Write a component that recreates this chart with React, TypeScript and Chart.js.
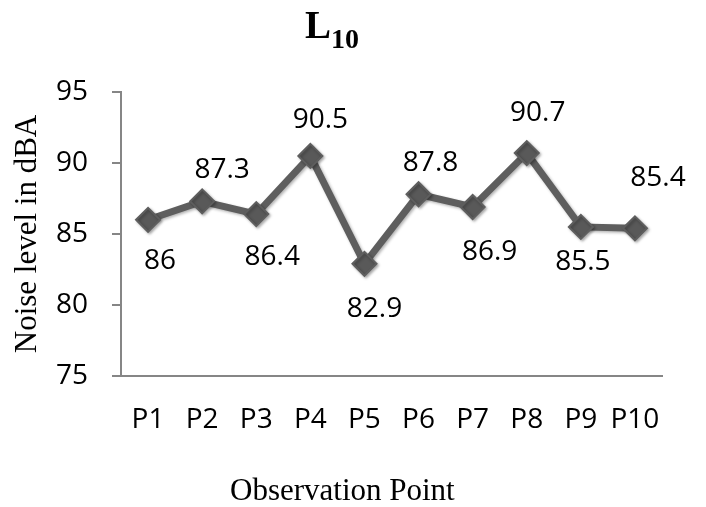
import React, { useEffect, useRef } from "react";
import { Chart, registerables } from "chart.js";

Chart.register(...registerables);

// ---- data ----
const categories = ["P1", "P2", "P3", "P4", "P5", "P6", "P7", "P8", "P9", "P10"];
const noiseL10 = [86, 87.3, 86.4, 90.5, 82.9, 87.8, 86.9, 90.7, 85.5, 85.4];
const yTickValues = [75, 80, 85, 90, 95];
const chartTitleMain = "L";
const chartTitleSub = "10";
const yAxisTitle = "Noise level in dBA";
const xAxisTitle = "Observation Point";

// ---- label placement (style only) ----
const labelDx = [12, 20, 16, 10, 10, 12, 17, 11, 2, 23];
const labelDy = [41, -31, 43, -36, 45, -31, 45, -40, 35, -50];

const LABEL_FONT = '28px "Open Sans", sans-serif';
const SERIF = '"Liberation Serif", "Times New Roman", serif';
const AXIS_COLOR = "#868686";
const LINE_COLOR = "#5e5e5e";

const decorations = {
  id: "decorations",
  beforeDatasetsDraw(chart: any) {
    const ctx = chart.ctx;
    ctx.save();
    ctx.shadowColor = "rgba(0,0,0,0.3)";
    ctx.shadowBlur = 3;
    ctx.shadowOffsetX = 1.5;
    ctx.shadowOffsetY = 1.5;
  },
  afterDatasetsDraw(chart: any) {
    const ctx = chart.ctx;
    ctx.restore();
    const meta = chart.getDatasetMeta(0);
    ctx.save();
    ctx.font = LABEL_FONT;
    ctx.fillStyle = "#000";
    ctx.textAlign = "center";
    ctx.textBaseline = "middle";
    meta.data.forEach((pt: any, i: number) => {
      ctx.fillText(String(noiseL10[i]), pt.x + labelDx[i], pt.y + labelDy[i]);
    });
    ctx.restore();
  },
  afterDraw(chart: any) {
    const ctx = chart.ctx;
    ctx.save();
    ctx.fillStyle = "#000";
    ctx.textBaseline = "alphabetic";
    ctx.textAlign = "left";
    ctx.font = `bold 39px ${SERIF}`;
    const mainW = ctx.measureText(chartTitleMain).width;
    ctx.fillText(chartTitleMain, 305, 38);
    ctx.font = `bold 28px ${SERIF}`;
    ctx.fillText(chartTitleSub, 305 + mainW, 48);
    ctx.font = `31px ${SERIF}`;
    ctx.textAlign = "left";
    ctx.textBaseline = "middle";
    ctx.fillText(xAxisTitle, 230, 492);
    ctx.restore();
  },
};

export default function App() {
  const canvasRef = useRef<HTMLCanvasElement | null>(null);

  useEffect(() => {
    const canvas = canvasRef.current;
    if (!canvas) return;
    const chart = new Chart(canvas, {
      type: "line",
      data: {
        labels: categories,
        datasets: [
          {
            data: noiseL10,
            borderColor: LINE_COLOR,
            backgroundColor: LINE_COLOR,
            borderWidth: 7,
            pointStyle: "rectRot",
            pointRadius: 12,
            pointBorderWidth: 2,
            pointBackgroundColor: "#595959",
            pointBorderColor: "#5e5e5e",
            tension: 0,
          },
        ],
      },
      options: {
        responsive: false,
        animation: false,
        devicePixelRatio: 1,
        layout: { padding: { top: 92, right: 44, bottom: 0, left: 0 } },
        plugins: {
          legend: { display: false },
          tooltip: { enabled: false },
          title: { display: false },
        },
        scales: {
          x: {
            type: "category",
            offset: true,
            grid: { display: false, drawTicks: false },
            border: { display: true, color: AXIS_COLOR, width: 2 },
            ticks: {
              color: "#000",
              font: { family: '"Open Sans", sans-serif', size: 28 },
              padding: 27,
              maxRotation: 0,
              autoSkip: false,
            },
            afterFit(scale: any) {
              scale.height = 131;
            },
          },
          y: {
            min: 75,
            max: 95,
            afterBuildTicks(scale: any) {
              scale.ticks = yTickValues.map((v) => ({ value: v }));
            },
            grid: {
              drawOnChartArea: false,
              drawTicks: true,
              tickLength: 9,
              color: AXIS_COLOR,
              lineWidth: 2,
            },
            border: { display: true, color: AXIS_COLOR, width: 2 },
            ticks: {
              color: "#000",
              font: { family: '"Open Sans", sans-serif', size: 28 },
              padding: 24,
            },
            title: {
              display: true,
              text: yAxisTitle,
              color: "#000",
              font: { family: SERIF, size: 31 },
              padding: { top: 9, bottom: 0 },
            },
            afterFit(scale: any) {
              scale.width = 121;
            },
          },
        },
      },
      plugins: [decorations],
    });
    return () => chart.destroy();
  }, []);

  return (
    <div style={{ position: "absolute", left: 0, top: 0, width: 706, height: 507, background: "#fff" }}>
      <canvas ref={canvasRef} width={706} height={507} style={{ display: "block" }} />
    </div>
  );
}
